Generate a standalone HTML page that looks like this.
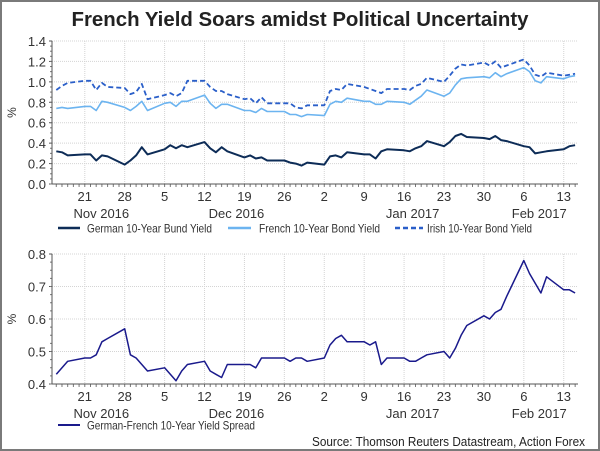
<!DOCTYPE html>
<html><head><meta charset="utf-8"><style>
html,body{margin:0;padding:0;background:#fff}
svg{display:block;font-family:"Liberation Sans",Arial,sans-serif}
</style></head><body>
<svg id="c" width="600" height="451" viewBox="0 0 600 451">
<rect x="1" y="1" width="598" height="449" fill="#fff" stroke="#7a7a7a" stroke-width="2"/>
<text x="300" y="26" text-anchor="middle" font-size="20" font-weight="bold" fill="#222" textLength="457" lengthAdjust="spacingAndGlyphs">French Yield Soars amidst Political Uncertainty</text>
</svg>
<script>
// Day offsets from Nov 21 2016 (trading days)
const days = [-5,-4,-3, 0,1,2,3,4, 7,8,9,10,11, 14,15,16,17,18, 21,22,23,24,25, 28,29,30,31,32, 35,36,37,38,39, 42,43,44,45,46, 49,50,51,52,53, 56,57,58,59,60, 63,64,65,66,67, 70,71,72,73,74, 77,78,79,80,81, 84,85,86];
const german = [.32,.31,.28, .29,.29,.23,.28,.27, .19,.23,.28,.36,.29, .34,.38,.35,.38,.36, .41,.35,.31,.36,.32, .26,.28,.25,.26,.23, .23,.21,.20,.18,.21, .19,.27,.28,.26,.31, .29,.29,.25,.32,.34, .33,.32,.35,.37,.42, .37,.41,.47,.49,.46, .45,.44,.47,.43,.42, .37,.36,.30,.31,.32, .34,.37,.38];
const french = [.74,.75,.74, .76,.76,.72,.81,.80, .75,.72,.76,.81,.72, .79,.80,.76,.81,.81, .87,.79,.74,.78,.78, .72,.72,.70,.74,.71, .71,.68,.68,.66,.68, .67,.78,.81,.80,.84, .81,.81,.78,.78,.81, .80,.78,.82,.86,.92, .86,.89,.97,1.03,1.04, 1.05,1.04,1.09,1.05,1.08, 1.14,1.10,1.01,.99,1.05, 1.03,1.05,1.06];
const irish = [.92,.96,.99, 1.01,1.01,.92,.99,.95, .94,.88,.90,.98,.83, .87,.89,.86,.89,1.01, 1.01,.95,.91,.91,.88, .83,.84,.79,.85,.79, .79,.79,.75,.74,.77, .77,.91,.93,.92,.98, .95,.93,.91,.89,.93, .93,.92,.96,.98,1.04, 1.00,1.06,1.13,1.17,1.16, 1.19,1.16,1.20,1.14,1.16, 1.22,1.16,1.07,1.05,1.09, 1.06,1.07,1.08];
const spread = [.43,.45,.47, .48,.48,.49,.53,.54, .57,.49,.48,.46,.44, .45,.43,.41,.44,.46, .47,.44,.43,.42,.46, .46,.46,.45,.48,.48, .48,.47,.48,.48,.47, .48,.52,.54,.55,.53, .53,.52,.53,.46,.48, .48,.47,.47,.48,.49, .50,.48,.51,.55,.58, .61,.60,.62,.63,.67, .78,.74,.71,.68,.73, .69,.69,.68];
const tickDays = [0,7,14,21,28,35,42,49,56,63,70,77,84];
const tickLabels = ["21","28","5","12","19","26","2","9","16","23","30","6","13"];
const monthDays = [2.9,26.6,57.5,79.7];
const monthLabels = ["Nov 2016","Dec 2016","Jan 2017","Feb 2017"];
const topTicks = [0,0.2,0.4,0.6,0.8,1.0,1.2,1.4];
const botTicks = [0.4,0.5,0.6,0.7,0.8];

const svg = document.getElementById('c');
const NS = 'http://www.w3.org/2000/svg';
function mk(tag, attrs, parent){const e=document.createElementNS(NS,tag);for(const k in attrs)e.setAttribute(k,attrs[k]);(parent||svg).appendChild(e);return e;}
const X0=52,X1=578,D0=-5.75,D1=86.5;
const xs = d => X0+(d-D0)/(D1-D0)*(X1-X0);

function panel(name, top, bot, vmin, vmax, ticks, fmt){
  const g = mk('g',{});
  
  
  const ys = v => bot-(v-vmin)/(vmax-vmin)*(bot-top);
  ticks.forEach(t=>{
    const y=ys(t);
    const l=mk('line',{x1:X0,x2:X1,y1:y,y2:y,stroke:'#d4d4d4','stroke-dasharray':'1,1'},g);
    
    
    const tx=mk('text',{x:X0-6,y:y+5,'text-anchor':'end','font-size':'13',fill:'#333'},g);
    tx.textContent=fmt(t);
    
    
    mk('line',{x1:X0-3,x2:X0,y1:y,y2:y,stroke:'#555'},g);
  });
  for(let i=0;i<(ticks.length-1)*4;i++){const y=ys(ticks[0]+i*(ticks[1]-ticks[0])/4);mk('line',{x1:X0-2,x2:X0,y1:y,y2:y,stroke:'#777'},g);}
  tickDays.forEach((d,i)=>{
    const x=xs(d);
    const l=mk('line',{x1:x,x2:x,y1:top,y2:bot,stroke:'#d4d4d4','stroke-dasharray':'1,1'},g);
    
    
    const tx=mk('text',{x:x,y:bot+17,'text-anchor':'middle','font-size':'13',fill:'#333'},g);
    tx.textContent=tickLabels[i];
    
    
  });
  for(let d=-5;d<=86;d++){const x=xs(d);mk('line',{x1:x,x2:x,y1:bot,y2:bot+3,stroke:'#777'},g);}
  monthLabels.forEach((m,i)=>{
    const tx=mk('text',{x:xs(monthDays[i]),y:bot+34,'text-anchor':'middle','font-size':'13',fill:'#333'},g);
    tx.textContent=m;
    
    
  });
  mk('line',{x1:X0,x2:X0,y1:top,y2:bot,stroke:'#555'},g);
  mk('line',{x1:X0,x2:X1,y1:bot,y2:bot,stroke:'#555'},g);
  const yt=mk('text',{x:0,y:0,'text-anchor':'middle','font-size':'12',fill:'#333',transform:`translate(16,${(top+bot)/2}) rotate(-90)`},g);
  yt.textContent='%';
  
  
  return ys;
}
function series(name, vals, ys, color, w, dash){
  const p=mk('path',{d:vals.map((v,i)=>(i?'L':'M')+xs(days[i]).toFixed(1)+','+ys(v).toFixed(1)).join(''),fill:'none',stroke:color,'stroke-width':w,'stroke-linejoin':'round'});
  if(dash)p.setAttribute('stroke-dasharray',dash);
  
  
}
function legend(x,y,label,color,w,dash,tl,lw,tx){
  const g=mk('g',{});
  
  
  const l=mk('line',{x1:x,x2:x+lw,y1:y,y2:y,stroke:color,'stroke-width':w},g);
  if(dash)l.setAttribute('stroke-dasharray',dash);
  const t=mk('text',{x:tx,y:y+4.5,'font-size':'12',fill:'#333',textLength:tl,lengthAdjust:'spacingAndGlyphs'},g);
  t.textContent=label;
}
const ysT = panel('top-yield-panel',41,184,0,1.4,topTicks,v=>v.toFixed(1));
series('french-yield-line',french,ysT,'#6cb4f0',1.6);
series('irish-yield-line',irish,ysT,'#2a5fc9',1.8,'5,3');
series('german-yield-line',german,ysT,'#0d2c57',2);
legend(58,228,'German 10-Year Bund Yield','#0d2c57',2.5,null,125,22,87);
legend(228,228,'French 10-Year Bond Yield','#6cb4f0',2.5,null,121,23,259);
legend(395,228,'Irish 10-Year Bond Yield','#2a5fc9',2.5,'5,3',105,28,427);
const ysB = panel('bottom-spread-panel',254,384,0.4,0.8,botTicks,v=>v.toFixed(1));
series('spread-line',spread,ysB,'#1a1a8c',1.5);
legend(58,425,'German-French 10-Year Yield Spread','#1a1a8c',2,null,168,22,87);
const src=mk('text',{x:585,y:446,'text-anchor':'end','font-size':'13',fill:'#222',textLength:'273',lengthAdjust:'spacingAndGlyphs'});
src.textContent='Source: Thomson Reuters Datastream, Action Forex';


</script>
</body></html>
